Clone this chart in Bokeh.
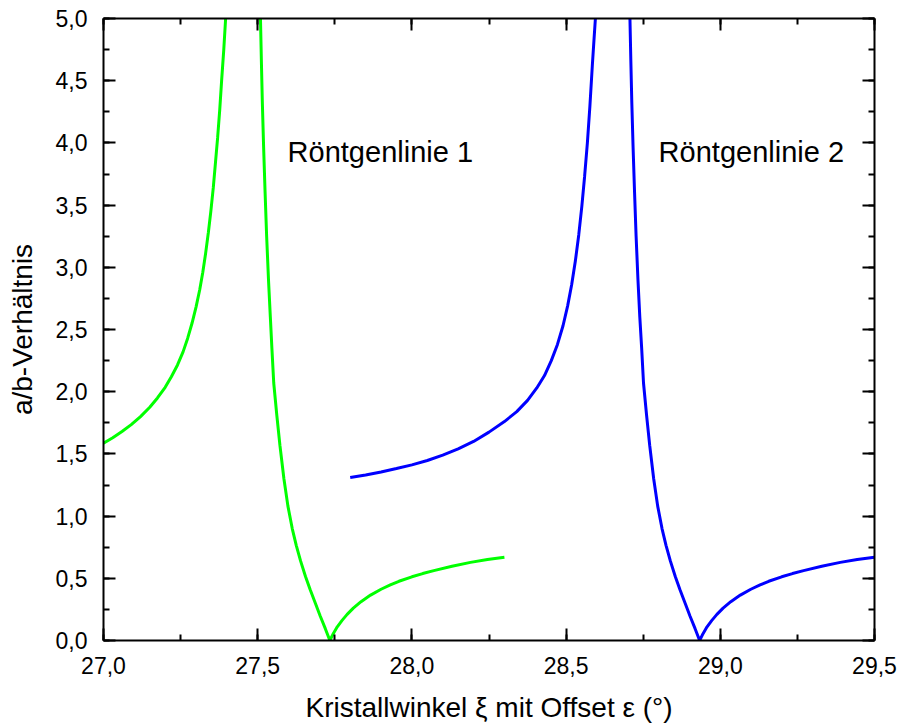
from bokeh.plotting import figure
from bokeh.models import (LinearAxis, SingleIntervalTicker, CustomJSTickFormatter,
                          Label, Range1d)
from bokeh.embed import file_html
from bokeh.resources import INLINE

# ---- data ----
# Röntgenlinie 1 (green), left branch up to the pole
green_a_x = [27.000, 27.030, 27.060, 27.090, 27.120, 27.150, 27.175, 27.200,
             27.220, 27.240, 27.258, 27.273, 27.287, 27.300, 27.312, 27.322,
             27.331, 27.340, 27.348, 27.356, 27.363, 27.370, 27.377, 27.383,
             27.390, 27.396]
green_a_y = [1.586, 1.630, 1.680, 1.735, 1.800, 1.875, 1.950, 2.035,
             2.120, 2.215, 2.320, 2.430, 2.550, 2.680, 2.820, 2.960,
             3.110, 3.280, 3.450, 3.640, 3.840, 4.040, 4.270, 4.500,
             4.750, 5.000]
# Röntgenlinie 1 (green), right branch after the pole
green_b_x = [27.509, 27.512, 27.515, 27.519, 27.524, 27.529, 27.535, 27.541,
             27.546, 27.552, 27.562, 27.572, 27.585, 27.598, 27.612, 27.625,
             27.639, 27.655, 27.670, 27.687, 27.703, 27.719, 27.734, 27.745,
             27.758, 27.773, 27.790, 27.810, 27.835, 27.866, 27.900, 27.930,
             27.958, 28.000, 28.035, 28.071, 28.130, 28.190, 28.245, 28.300]
green_b_y = [5.000, 4.650, 4.330, 3.980, 3.600, 3.250, 2.900, 2.600,
             2.350, 2.070, 1.810, 1.570, 1.300, 1.080, 0.900, 0.765,
             0.640, 0.515, 0.410, 0.300, 0.195, 0.097, 0.000, 0.055,
             0.110, 0.160, 0.210, 0.260, 0.312, 0.365, 0.412, 0.447,
             0.476, 0.512, 0.538, 0.562, 0.597, 0.628, 0.651, 0.670]
# Röntgenlinie 2 (blue), left branch
blue_a_x = [27.800, 27.850, 27.900, 27.950, 28.000, 28.050, 28.100, 28.150,
            28.200, 28.250, 28.300, 28.340, 28.375, 28.405, 28.430, 28.452,
            28.472, 28.490, 28.505, 28.518, 28.530, 28.541, 28.551, 28.560,
            28.569, 28.577, 28.585, 28.591, 28.595]
blue_a_y = [1.310, 1.330, 1.355, 1.382, 1.412, 1.447, 1.490, 1.540,
            1.600, 1.675, 1.760, 1.840, 1.930, 2.030, 2.130, 2.250,
            2.380, 2.530, 2.690, 2.860, 3.050, 3.260, 3.490, 3.730,
            4.000, 4.290, 4.620, 4.850, 5.000]
# Röntgenlinie 2 (blue), right branch
blue_b_x = [28.707, 28.710, 28.713, 28.717, 28.722, 28.727, 28.733, 28.739,
            28.745, 28.751, 28.761, 28.771, 28.784, 28.797, 28.811, 28.824,
            28.838, 28.854, 28.869, 28.886, 28.902, 28.918, 28.933, 28.944,
            28.957, 28.972, 28.989, 29.009, 29.034, 29.065, 29.099, 29.129,
            29.157, 29.199, 29.234, 29.270, 29.329, 29.389, 29.444, 29.500]
blue_b_y = [5.000, 4.650, 4.330, 3.980, 3.600, 3.250, 2.900, 2.600,
            2.350, 2.070, 1.810, 1.570, 1.300, 1.080, 0.900, 0.765,
            0.640, 0.515, 0.410, 0.300, 0.195, 0.097, 0.000, 0.055,
            0.110, 0.160, 0.210, 0.260, 0.312, 0.365, 0.412, 0.447,
            0.476, 0.512, 0.538, 0.562, 0.597, 0.628, 0.651, 0.670]

labels = ["Röntgenlinie 1", "Röntgenlinie 2"]
label_x = [27.597, 28.800]
label_y = [3.925, 3.925]

x_title = "Kristallwinkel ξ mit Offset ε (°)"
y_title = "a/b-Verhältnis"

FONT = "Liberation Sans"

p = figure(frame_width=771, frame_height=622,
           min_border_left=103, min_border_right=26,
           min_border_top=18, min_border_bottom=87,
           x_range=Range1d(27.0, 29.5), y_range=Range1d(0.0, 5.0),
           output_backend="svg", toolbar_location=None,
           x_axis_location=None, y_axis_location=None)
p.outline_line_color = None
p.xgrid.visible = False
p.ygrid.visible = False
p.background_fill_color = "white"
p.border_fill_color = "white"

fmt = CustomJSTickFormatter(code="return tick.toFixed(1).replace('.', ',');")
blank = CustomJSTickFormatter(code="return '';")


def style(ax, show_labels):
    ax.ticker = SingleIntervalTicker(interval=0.5, num_minor_ticks=2)
    ax.axis_line_width = 2
    ax.axis_line_color = "black"
    ax.major_tick_line_width = 2
    ax.minor_tick_line_width = 2
    ax.major_tick_in = 12
    ax.major_tick_out = 0
    ax.minor_tick_in = 6
    ax.minor_tick_out = 0
    if show_labels:
        ax.formatter = fmt
        ax.major_label_text_font = FONT
        ax.major_label_text_font_size = "23px"
        ax.major_label_text_color = "black"
        ax.axis_label_text_font = FONT
        ax.axis_label_text_font_size = "28px"
        ax.axis_label_text_font_style = "normal"
        ax.axis_label_text_color = "black"
    else:
        ax.formatter = blank
        ax.major_label_text_font_size = "1px"
        ax.major_label_standoff = 0


xb = LinearAxis(axis_label=x_title)
style(xb, True)
xb.major_label_standoff = 16
xb.axis_label_standoff = 15
p.add_layout(xb, "below")

yl = LinearAxis(axis_label=y_title)
style(yl, True)
yl.major_label_standoff = 16
yl.axis_label_standoff = 15
p.add_layout(yl, "left")

xt = LinearAxis()
style(xt, False)
p.add_layout(xt, "above")

yr = LinearAxis()
style(yr, False)
p.add_layout(yr, "right")

GREEN = "#00ff00"
BLUE = "#0000ff"
p.line(green_a_x, green_a_y, line_color=GREEN, line_width=3)
p.line(green_b_x, green_b_y, line_color=GREEN, line_width=3)
p.line(blue_a_x, blue_a_y, line_color=BLUE, line_width=3)
p.line(blue_b_x, blue_b_y, line_color=BLUE, line_width=3)

for t, lx, ly in zip(labels, label_x, label_y):
    p.add_layout(Label(x=lx, y=ly, text=t, text_font=FONT,
                       text_font_size="29px", text_color="black",
                       text_baseline="alphabetic", text_align="left"))

open("out.html", "w").write(file_html(p, INLINE))
